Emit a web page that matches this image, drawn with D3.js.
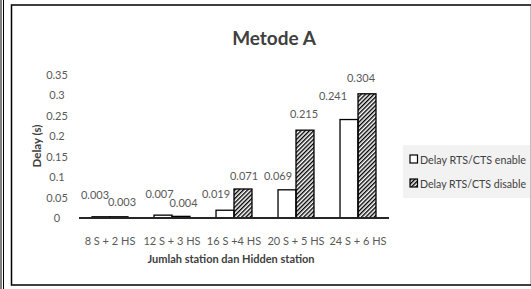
<!DOCTYPE html>
<meta charset="utf-8">
<script src="https://d3js.org/d3.v7.min.js"></script>
<style>
  body { margin: 0; background: #fff; }
  text { font-family: Lato, "Open Sans", sans-serif; }
</style>
<div id="chart"></div>
<script>
// data
var categories = ["8 S + 2 HS", "12 S + 3 HS", "16 S +4 HS", "20 S + 5 HS", "24 S + 6 HS"];
var enableDelay = [0.003, 0.007, 0.019, 0.069, 0.241];
var disableDelay = [0.003, 0.004, 0.071, 0.215, 0.304];
var seriesNames = ["Delay RTS/CTS enable", "Delay RTS/CTS disable"];
var yTicks = [0, 0.05, 0.1, 0.15, 0.2, 0.25, 0.3, 0.35];

var W = 531, H = 289;
var svg = d3.select("#chart").append("svg")
    .attr("width", W).attr("height", H);

// hatch for the "disable" bars
var defs = svg.append("defs");
defs.append("pattern")
    .attr("id", "hatch")
    .attr("patternUnits", "userSpaceOnUse")
    .attr("width", 3).attr("height", 3)
    .attr("patternTransform", "rotate(45)")
  .append("rect")
    .attr("x", 0).attr("y", 0)
    .attr("width", 1.4).attr("height", 3)
    .attr("fill", "#000");

// outer frames
svg.append("line").attr("x1", 1).attr("x2", 1).attr("y1", 0).attr("y2", H)
    .attr("stroke", "#000").attr("stroke-width", 1);
svg.append("line").attr("x1", 3.5).attr("x2", 3.5).attr("y1", 0).attr("y2", H)
    .attr("stroke", "#000").attr("stroke-width", 1);
svg.append("rect")
    .attr("x", 11.5).attr("y", 5)
    .attr("width", W - 11).attr("height", 280)
    .attr("fill", "#fff").attr("stroke", "#000").attr("stroke-width", 1.5);

// scales
var x0 = d3.scaleBand()
    .domain(categories)
    .range([79, 389])
    .paddingInner(0.42)
    .paddingOuter(0.21);
var x1 = d3.scaleBand()
    .domain(seriesNames)
    .range([0, x0.bandwidth()]);
var y = d3.scaleLinear()
    .domain([0, 0.35])
    .range([218, 75]);

// title
svg.append("text")
    .attr("x", 274).attr("y", 45)
    .attr("text-anchor", "middle")
    .style("font-size", "19px").style("font-weight", "bold")
    .attr("fill", "#404040")
    .text("Metode A");

// y axis labels
var yAxis = svg.append("g")
    .attr("transform", "translate(68,0)")
    .call(d3.axisLeft(y).tickValues(yTicks).tickSize(0)
        .tickFormat(d => String(+d.toFixed(2))));
yAxis.select(".domain").remove();
yAxis.selectAll("text")
    .attr("x", -11)
    .attr("text-anchor", "middle")
    .attr("fill", "#595959")
    .style("font-size", "11px")
    .style("font-family", "Lato, sans-serif");

svg.append("text")
    .attr("transform", "translate(41,146) rotate(-90)")
    .attr("text-anchor", "middle")
    .style("font-size", "11.5px").style("font-weight", "bold")
    .attr("fill", "#404040")
    .text("Delay (s)");

// bars
var rows = categories.map((c, i) => ({cat: c, vals: [enableDelay[i], disableDelay[i]]}));
var groups = svg.selectAll("g.grp")
    .data(rows)
    .join("g")
    .attr("class", "grp")
    .attr("transform", d => "translate(" + x0(d.cat) + ",0)");

groups.selectAll("rect")
    .data(d => d.vals.map((v, k) => ({name: seriesNames[k], k: k, v: v})))
    .join("rect")
    .attr("x", d => x1(d.name))
    .attr("y", d => y(d.v))
    .attr("width", x1.bandwidth())
    .attr("height", d => y(0) - y(d.v))
    .attr("fill", d => d.k === 0 ? "#fff" : "url(#hatch)")
    .attr("stroke", "#000")
    .attr("stroke-width", 1.3);

// value labels (nudged like the original where they crowd each other)
var nudge = [
  [[-6, -8], [3, -1]],
  [[-3.5, -7], [2.5, 1]],
  [[-9, -2], [1, 1]],
  [[-9, 0], [-1, -2]],
  [[-16, -9.5], [-6, -2]]
];
groups.each(function (d, i) {
  d3.select(this).selectAll("text.val")
    .data(d.vals.map((v, k) => ({name: seriesNames[k], k: k, v: v})))
    .join("text")
    .attr("class", "val")
    .attr("x", e => x1(e.name) + x1.bandwidth() / 2 + nudge[i][e.k][0])
    .attr("y", e => y(e.v) - 10 + nudge[i][e.k][1])
    .attr("text-anchor", "middle")
    .attr("fill", "#595959")
    .style("font-size", "11px")
    .text(e => e.v.toFixed(3));
});

// x axis
svg.append("line")
    .attr("x1", 79).attr("x2", 389)
    .attr("y1", y(0)).attr("y2", y(0))
    .attr("stroke", "#262626").attr("stroke-width", 2);

var xAxis = svg.append("g")
    .attr("transform", "translate(0," + y(0) + ")")
    .call(d3.axisBottom(x0).tickSize(0));
xAxis.select(".domain").remove();
xAxis.selectAll("text")
    .attr("y", 19)
    .attr("fill", "#595959")
    .style("font-size", "11px")
    .style("font-family", "Lato, sans-serif");

svg.append("text")
    .attr("x", 231).attr("y", 263)
    .attr("text-anchor", "middle")
    .style("font-size", "11px").style("font-weight", "bold")
    .attr("fill", "#404040")
    .text("Jumlah station dan Hidden station");

// legend
var legend = svg.append("g");
legend.append("rect")
    .attr("x", 403).attr("y", 145)
    .attr("width", 127).attr("height", 53)
    .attr("fill", "#f2f2f2");
var items = legend.selectAll("g")
    .data(seriesNames)
    .join("g")
    .attr("transform", (d, i) => "translate(410," + (155 + i * 24) + ")");
items.append("rect")
    .attr("width", 7.5).attr("height", 8)
    .attr("fill", (d, i) => i === 0 ? "#fff" : "url(#hatch)")
    .attr("stroke", "#000").attr("stroke-width", 1.2);
items.append("text")
    .attr("x", 10).attr("y", 8.5)
    .attr("fill", "#404040")
    .style("font-size", "11px")
    .attr("textLength", 106)
    .attr("lengthAdjust", "spacingAndGlyphs")
    .text(d => d);
</script>
